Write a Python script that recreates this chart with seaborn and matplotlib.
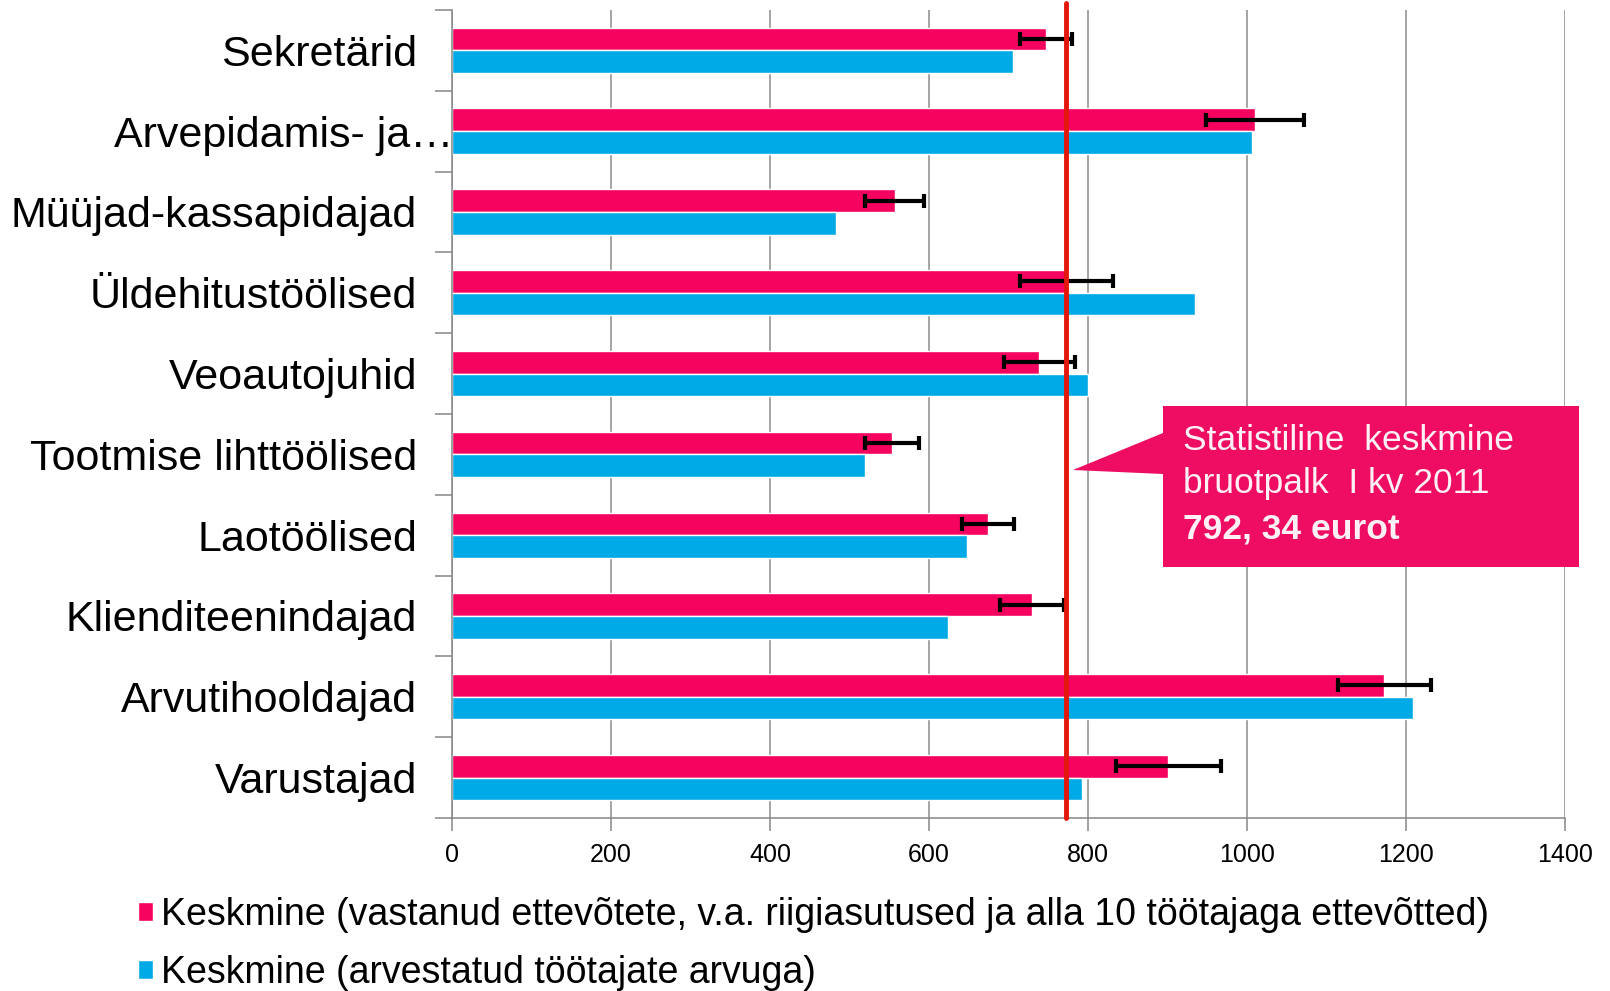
import numpy as np
import pandas as pd
import matplotlib
matplotlib.use("Agg")
import matplotlib.pyplot as plt
import matplotlib.transforms as mtransforms
from matplotlib.patches import Polygon, Patch
import seaborn as sns

# andmed
ametid = ["Sekretärid", "Arvepidamis- ja raamatupidamisametnikud", "Müüjad-kassapidajad",
          "Üldehitustöölised", "Veoautojuhid", "Tootmise lihttöölised", "Laotöölised",
          "Klienditeenindajad", "Arvutihooldajad", "Varustajad"]
silt = ["Sekretärid", "Arvepidamis- ja…", "Müüjad-kassapidajad", "Üldehitustöölised",
        "Veoautojuhid", "Tootmise lihttöölised", "Laotöölised", "Klienditeenindajad",
        "Arvutihooldajad", "Varustajad"]
keskmine_vastanud = [747, 1010, 557, 773, 739, 553, 674, 730, 1173, 901]
viga_vastanud = [33, 62, 37, 58, 45, 34, 33, 40, 58, 66]
keskmine_arvuga = [706, 1006, 483, 935, 800, 519, 648, 624, 1209, 793]
stat_keskmine = 773

seeria1 = "Keskmine (vastanud ettevõtete, v.a. riigiasutused ja alla 10 töötajaga ettevõtted)"
seeria2 = "Keskmine (arvestatud töötajate arvuga)"

roosa = "#F5035F"
sinine = "#00AAE6"

df = pd.DataFrame({
    "amet": ametid * 2,
    "palk": keskmine_vastanud + keskmine_arvuga,
    "seeria": [seeria1] * len(ametid) + [seeria2] * len(ametid),
})

sns.set_theme(style="white")
plt.rcParams["font.family"] = ["Liberation Sans", "DejaVu Sans"]
plt.rcParams["text.color"] = "black"
plt.rcParams["xtick.color"] = "black"
plt.rcParams["ytick.color"] = "black"

fig = plt.figure(figsize=(16.1, 9.91), dpi=100)
ax = fig.add_axes([0.2807, 0.1746, 0.972 - 0.2807, 0.99 - 0.1746])

sns.barplot(data=df, y="amet", x="palk", hue="seeria", order=ametid,
            palette=[roosa, sinine], width=0.56, orient="h", errorbar=None,
            saturation=1, ax=ax, legend=False, zorder=2)

# veajooned roosadele tulpadele
roosad = ax.containers[0]
yk = [p.get_y() + p.get_height() / 2 for p in roosad]
ax.errorbar(keskmine_vastanud, yk, xerr=viga_vastanud, fmt="none", ecolor="black",
            elinewidth=3, capsize=5, capthick=3, zorder=4)

ax.axvline(stat_keskmine, color="#E3170A", lw=3.5, zorder=5, ymin=0, ymax=1.008,
           clip_on=False)

ax.set_xlim(0, 1400)
ax.set_ylim(len(ametid) - 0.5, -0.5)
ax.set_xticks(np.arange(0, 1401, 200))
ax.xaxis.grid(True, color="#8C8C8C", lw=1.1)
ax.set_axisbelow(True)
ax.set_xlabel("")
ax.set_ylabel("")

# y-telje kriipsud kategooriate piiridel
ax.set_yticks(np.arange(-0.5, len(ametid), 1.0))
ax.set_yticklabels([])
ax.set_yticks(np.arange(len(ametid)), minor=True)
ax.set_yticklabels(silt, minor=True, fontsize=31)
ax.tick_params(axis="y", which="major", left=True, length=12, color="#868686", width=1.1)
ax.tick_params(axis="y", which="minor", left=False, pad=21, labelcolor="black")
ax.tick_params(axis="x", bottom=True, length=9, color="#868686", width=1.1,
               labelsize=18, pad=9, labelcolor="black")

# pikk silt ulatub teljeni
for lab in ax.get_yticklabels(minor=True):
    if lab.get_text() == "Arvepidamis- ja…":
        lab.set_transform(lab.get_transform() +
                          mtransforms.ScaledTranslation(0.36, 0, fig.dpi_scale_trans))

for s in ["top", "right"]:
    ax.spines[s].set_visible(False)
for s in ["left", "bottom"]:
    ax.spines[s].set_color("#868686")
    ax.spines[s].set_linewidth(1.1)

# kommentaarikast
kast = fig.add_axes([0, 0, 1, 1], facecolor="none")
kast.set_xlim(0, 1610)
kast.set_ylim(991, 0)
kast.axis("off")
kast.add_patch(Polygon([[1163, 406], [1579, 406], [1579, 567], [1163, 567],
                        [1163, 474], [1073, 470], [1163, 433]],
                       closed=True, facecolor="#EE0D62", edgecolor="none"))
kast.text(1183, 441, "Statistiline  keskmine", color="#FFF0F5", fontsize=25.5, va="center")
kast.text(1183, 484, "bruotpalk  I kv 2011", color="#FFF0F5", fontsize=25.5, va="center")
kast.text(1183, 529, "792, 34 eurot", color="#FFF0F5", fontsize=25.5, va="center",
          fontweight="bold")

# legend
kased = [Patch(facecolor=roosa, label=seeria1), Patch(facecolor=sinine, label=seeria2)]
fig.legend(handles=kased, loc="upper left", bbox_to_anchor=(138 / 1610, 1 - 897 / 991),
           frameon=False, fontsize=27, handlelength=0.4, handleheight=0.4,
           handletextpad=0.2, labelspacing=0.58, borderaxespad=0, borderpad=0)

fig.savefig("out.png", dpi=100)
